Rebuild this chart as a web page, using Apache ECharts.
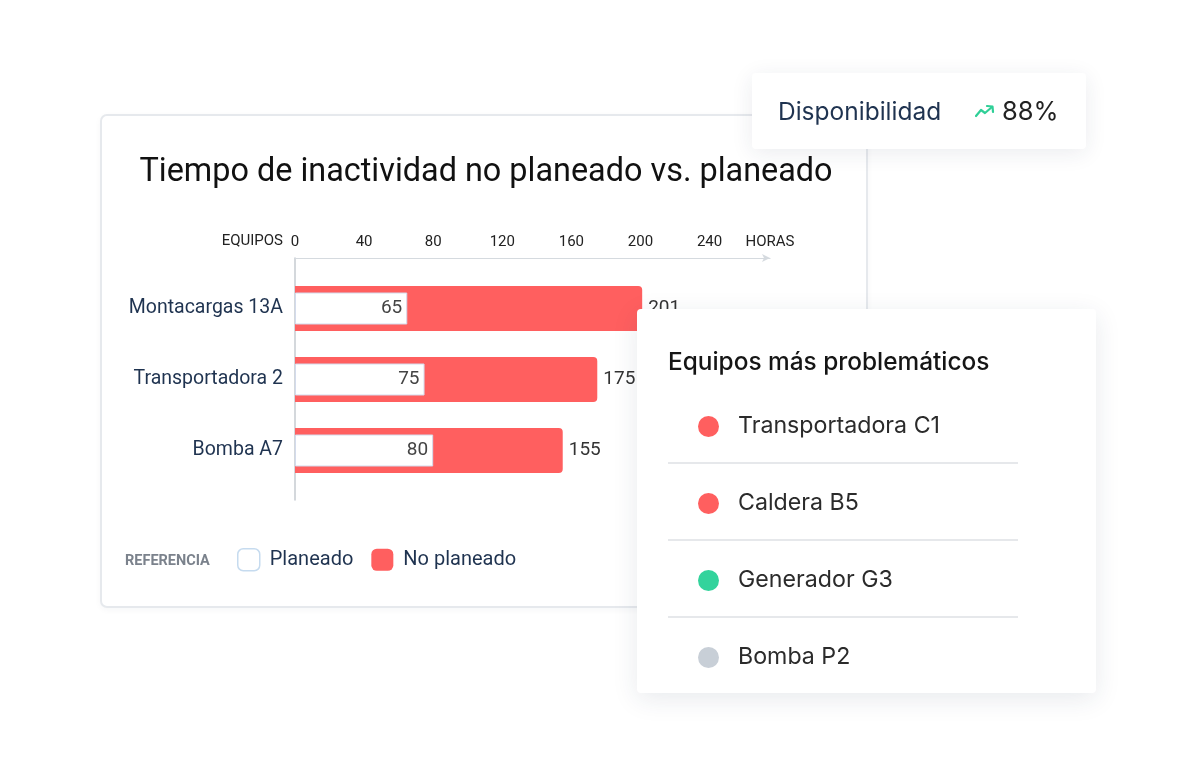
<!DOCTYPE html>
<html>
<head>
    <meta charset="utf-8">
    <title>Tiempo de inactividad</title>
    <script src="https://cdn.jsdelivr.net/npm/echarts@6/dist/echarts.min.js"></script>
    <style>
        body { margin: 0; background: #fff; }
        #page { position: relative; width: 1200px; height: 769px; overflow: hidden; }
        .card { position: absolute; background: #fff; box-sizing: border-box; }
        #chartCard { left: 100px; top: 114px; width: 768px; height: 494px;
            border: 2px solid #e6e9ed; border-radius: 7px; box-shadow: 0 2px 6px rgba(20,40,80,0.04); z-index: 0; }
        #main { position: absolute; left: 0; top: 0; width: 1200px; height: 769px; z-index: 1; }
        #kpiCard { left: 752px; top: 73px; width: 334px; height: 76px; z-index: 2;
            border-radius: 4px; box-shadow: 0 4px 22px rgba(30,45,80,0.09);
            font-family: Inter, "Noto Sans", sans-serif; }
        #kpiCard .lbl { position: absolute; left: 26px; top: 23px; font-size: 24.5px; color: #1f3350; }
        #kpiCard .val { position: absolute; left: 250px; top: 22px; font-size: 25.5px; color: #222; }
        #kpiCard svg { position: absolute; left: 223px; top: 31px; }
        #listCard { left: 637px; top: 309px; width: 459px; height: 384px; z-index: 2;
            border-radius: 4px; box-shadow: 0 6px 26px rgba(30,45,80,0.10);
            font-family: Inter, "Noto Sans", sans-serif; }
        #listCard h3 { position: absolute; left: 31px; top: 37px; margin: 0; font-size: 24.4px; font-weight: 500; color: #151515; }
        .row { position: absolute; left: 31px; width: 350px; height: 77px; }
        .row .dot { position: absolute; left: 30px; top: 29px; width: 21px; height: 21px; border-radius: 50%; }
        .row .txt { position: absolute; left: 70px; top: 24px; font-size: 23.2px; color: #2b2b2b; }
        .row .sep { position: absolute; left: 0; bottom: 0; width: 350px; height: 2px; background: #e6e8eb; }
    </style>
</head>
<body>
<div id="page">
    <div id="chartCard" class="card"></div>
    <div id="main"></div>
    <div id="kpiCard" class="card">
        <span class="lbl">Disponibilidad</span>
        <svg width="20" height="14" viewBox="0 0 20 14">
            <polyline points="1,12 6,6 10,9 17,3" fill="none" stroke="#2fcf97" stroke-width="2.2" stroke-linejoin="round" stroke-linecap="round"/>
            <polyline points="12,2 17.5,2.5 18,8" fill="none" stroke="#2fcf97" stroke-width="2.2" stroke-linejoin="round" stroke-linecap="round"/>
        </svg>
        <span class="val" id="kpiVal"></span>
    </div>
    <div id="listCard" class="card">
        <h3>Equipos más problemáticos</h3>
    </div>
</div>
<script type="text/javascript">
    // datos del gráfico
    var categories = ['Montacargas 13A', 'Transportadora 2', 'Bomba A7'];
    var planeado = [65, 75, 80];
    var noPlaneado = [201, 175, 155];
    var axisMax = 275;      // el eje llega un poco más allá del 240
    var axisStep = 40;

    // tarjetas laterales
    var disponibilidad = 88;
    var problemEquipos = ['Transportadora C1', 'Caldera B5', 'Generador G3', 'Bomba P2'];
    var problemColors = ['#ff5f5f', '#ff5f5f', '#33d39c', '#c8cfd7'];

    document.getElementById('kpiVal').textContent = disponibilidad + '%';
    var listCard = document.getElementById('listCard');
    problemEquipos.forEach(function (name, i) {
        var row = document.createElement('div');
        row.className = 'row';
        row.style.top = (78 + i * 77) + 'px';
        row.innerHTML = '<span class="dot" style="background:' + problemColors[i] + '"></span>' +
            '<span class="txt">' + name + '</span>' +
            (i < problemEquipos.length - 1 ? '<span class="sep"></span>' : '');
        listCard.appendChild(row);
    });

    var myChart = echarts.init(document.getElementById('main'));
    var font = 'Roboto';

    var option = {
        animation: false,
        title: {
            text: 'Tiempo de inactividad no planeado vs. planeado',
            left: 481,
            top: 152,
            textAlign: 'center',
            textStyle: { fontFamily: font, fontSize: 32.4, fontWeight: 'normal', color: '#111' }
        },
        legend: {
            left: 237,
            top: 548,
            padding: 0,
            itemWidth: 22,
            itemHeight: 22,
            itemGap: 18,
            icon: 'roundRect',
            textStyle: { fontFamily: font, fontSize: 20, color: '#1f3350', padding: [0, 0, 0, 5] },
            data: [
                { name: 'Planeado', itemStyle: { color: '#fff', borderColor: '#c6dbef', borderWidth: 1.5 } },
                { name: 'No planeado', itemStyle: { color: '#ff5f5f' } }
            ]
        },
        graphic: [{
            type: 'text',
            left: 125,
            top: 554,
            style: { text: 'REFERENCIA', fontFamily: font, fontSize: 14.5, fontWeight: 'bold', fill: '#7b828c' }
        }],
        grid: [
            { left: 295, top: 273, width: 475, height: 213 },   // barras
            { left: 295, top: 258, width: 475, height: 242 }    // marco de ejes
        ],
        xAxis: [
            { gridIndex: 0, type: 'value', min: 0, max: axisMax, show: false },
            {
                gridIndex: 1, type: 'value', position: 'top', min: 0, max: axisMax, interval: axisStep,
                name: 'HORAS', nameLocation: 'end', nameGap: 0,
                nameTextStyle: { fontFamily: font, fontSize: 15, color: '#222', align: 'center', verticalAlign: 'bottom', padding: [0, 0, 8, 0] },
                axisLine: { show: true, onZero: false, symbol: ['none', 'arrow'], symbolSize: [6, 8], lineStyle: { color: '#d5dadf', width: 1.2 } },
                axisTick: { show: false },
                splitLine: { show: false },
                axisLabel: {
                    fontFamily: font, fontSize: 15, color: '#222', margin: 8,
                    formatter: function (v) { return v % axisStep === 0 ? String(v) : ''; }
                }
            }
        ],
        yAxis: [
            {
                gridIndex: 0, type: 'category', data: categories, inverse: true,
                axisLine: { show: false }, axisTick: { show: false },
                axisLabel: { fontFamily: font, fontSize: 19.5, color: '#1f3350', margin: 12 }
            },
            { gridIndex: 0, type: 'category', data: categories, inverse: true, show: false },
            {
                gridIndex: 1, type: 'value', min: 0, max: 1,
                name: 'EQUIPOS', nameLocation: 'end', nameGap: 17,
                nameTextStyle: { fontFamily: font, fontSize: 15, color: '#222', align: 'right', verticalAlign: 'middle', padding: [0, 12, 0, 0] },
                axisLine: { show: true, onZero: false, lineStyle: { color: '#c6cbd1', width: 1.5 } },
                axisTick: { show: false }, axisLabel: { show: false }, splitLine: { show: false }
            }
        ],
        series: [
            {
                name: 'Planeado',
                type: 'bar',
                xAxisIndex: 0,
                yAxisIndex: 1,
                barWidth: 32,
                z: 3,
                data: planeado,
                itemStyle: { color: '#fff', borderColor: '#d3dbec', borderWidth: 1 },
                label: { show: true, position: 'insideRight', distance: 5, fontFamily: font, fontSize: 19, color: '#444' }
            },
            {
                name: 'No planeado',
                type: 'bar',
                xAxisIndex: 0,
                yAxisIndex: 0,
                barWidth: 45,
                z: 2,
                data: noPlaneado,
                itemStyle: { color: '#ff5f5f', borderRadius: [0, 4, 4, 0] },
                label: { show: true, position: 'right', distance: 6, fontFamily: font, fontSize: 19, color: '#333' }
            }
        ]
    };
    myChart.setOption(option);
</script>
</body>
</html>
